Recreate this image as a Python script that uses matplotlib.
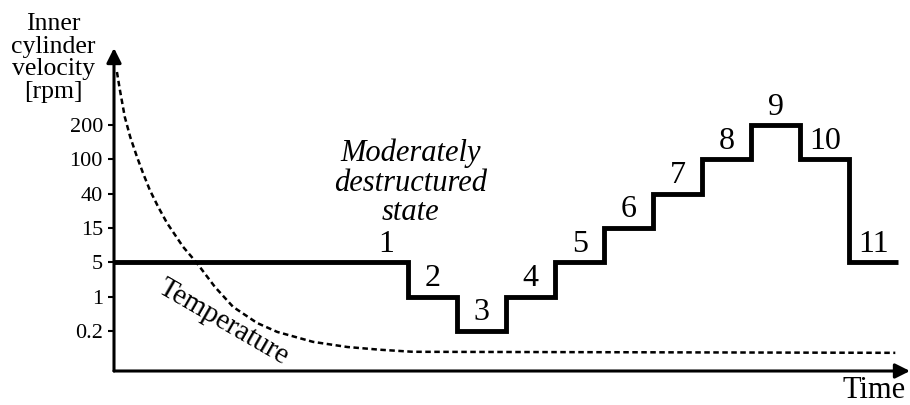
import matplotlib
matplotlib.use('Agg')
import matplotlib.pyplot as plt

# rpm levels shown on the y axis (schematic, evenly spaced)
tick_rpm = ["0.2", "1", "5", "15", "40", "100", "200"]

# step protocol: step number, rpm, step start/end time (arbitrary units)
step_ids = ["1", "2", "3", "4", "5", "6", "7", "8", "9", "10", "11"]
step_rpm = ["5", "1", "0.2", "1", "5", "15", "40", "100", "200", "100", "5"]
step_start = [0, 6, 7, 8, 9, 10, 11, 12, 13, 14, 15]
step_end = [6, 7, 8, 9, 10, 11, 12, 13, 14, 15, 16]

# temperature curve (same axis units)
temp_t = [0.06, 0.12, 0.22, 0.33, 0.47, 0.59, 0.73, 0.90, 1.08, 1.41, 1.69, 2.06,
          2.43, 2.92, 3.33, 4.06, 4.76, 5.43, 6.10, 15.94]
temp_v = [8.55, 8.03, 7.24, 6.66, 6.07, 5.61, 5.11, 4.62, 4.15, 3.45, 2.98, 2.28,
          1.70, 1.23, 0.97, 0.68, 0.53, 0.45, 0.39, 0.36]

plt.rcParams['font.family'] = ['Liberation Serif', 'DejaVu Serif']

fig = plt.figure(figsize=(9.1, 4.05), dpi=100)
ax = fig.add_axes([114 / 910, 34 / 405, 796 / 910, 323 / 405])
xmax, ymin, ymax = 16.24, -0.17, 9.25
ax.set_xlim(0, xmax)
ax.set_ylim(ymin, ymax)

level = [tick_rpm.index(r) + 1 for r in step_rpm]

# step profile
xs = step_start + [step_end[-1]]
ys = level + [level[-1]]
ax.step(xs, ys, where="post", color="black", lw=3.5, solid_joinstyle="miter",
        solid_capstyle="butt", zorder=3)

for sid, s, e, lv in zip(step_ids, step_start, step_end, level):
    cx = (s + e) / 2 if sid != "1" else e - 0.45
    ax.annotate(sid, (cx, lv), xytext=(0, 13), textcoords="offset points",
                ha="center", va="center", fontsize=23)

# temperature
ax.plot(temp_t, temp_v, color="black", lw=1.8, linestyle=(0, (2.2, 1.4)), zorder=2)
ax.text(2.24, 1.26, "Temperature", rotation=-30, rotation_mode="anchor",
        ha="center", va="center", fontsize=21)

ax.text(6.05, 5.31, "Moderately\ndestructured\nstate", style="italic",
        ha="center", va="center", fontsize=22, linespacing=1.02)

# axes with arrows
for sp in ax.spines.values():
    sp.set_visible(False)
ax.annotate("", xy=(0, 1), xytext=(0, 0), xycoords="axes fraction",
            arrowprops=dict(arrowstyle="-|>", color="black", lw=2.2,
                            mutation_scale=22, shrinkA=0, shrinkB=0))
ax.annotate("", xy=(1, 0), xytext=(0, 0), xycoords="axes fraction",
            arrowprops=dict(arrowstyle="-|>", color="black", lw=2.2,
                            mutation_scale=22, shrinkA=0, shrinkB=0))

ax.set_xticks([])
ax.set_yticks(range(1, len(tick_rpm) + 1))
ax.set_yticklabels(tick_rpm, fontsize=16)
ax.tick_params(axis="y", length=4.5, width=1.5, pad=3.5)

fig.text(53 / 910, 1 - 58 / 405, "Inner\ncylinder\nvelocity\n[rpm]", ha="center",
         va="center", fontsize=18.5, linespacing=1.05)
fig.text(874 / 910, 1 - 391 / 405, "Time", ha="center", va="center", fontsize=22)

fig.savefig("out.png", dpi=100)
